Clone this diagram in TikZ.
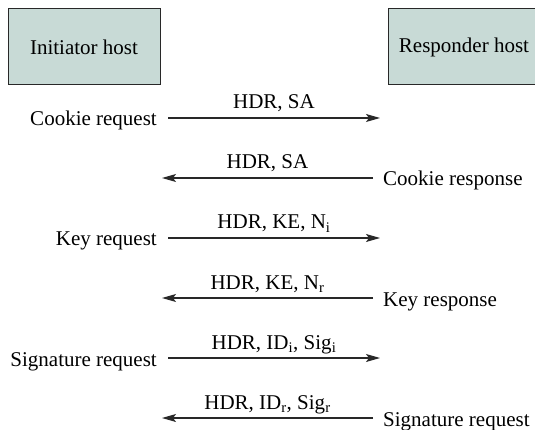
\documentclass[tikz,border=0pt]{standalone}
\usepackage{fontspec}
\setmainfont{Liberation Serif}
\usepackage{xcolor}
\usetikzlibrary{arrows.meta, positioning}
\definecolor{hostfill}{RGB}{200,218,214}
\definecolor{trazo}{RGB}{40,40,40}

\begin{document}
\begin{tikzpicture}[
  x=1pt, y=-1pt,
  every node/.style={font=\fontsize{21}{25}\selectfont},
  host/.style={draw=trazo, line width=1pt, fill=hostfill, minimum width=152pt,
               minimum height=76pt, align=center, inner sep=0pt},
  flecha/.style={-{Stealth[length=14pt, width=8pt, inset=3pt]}, line width=1.2pt, color=trazo},
  msg/.style={anchor=base, yshift=9pt, inner sep=0pt, text=black},
  ladoi/.style={anchor=base east, inner sep=0pt, xshift=-11pt, yshift=-8pt},
  ladod/.style={anchor=base west, inner sep=0pt, xshift=10pt, yshift=-8pt}
]
\useasboundingbox (0,0) rectangle (535,430);

\node[host] (ini) at (84,47) {Initiator host};
\node[host] (resp) at (464,47) {Responder host};

% cookie exchange
\coordinate (ck1a) at (168,118); \coordinate (ck1b) at (380,118);
\coordinate (ck2a) at (373,178); \coordinate (ck2b) at (162,178);
\draw[flecha] (ck1a) -- node[msg]{HDR, SA} (ck1b);
\draw[flecha] (ck2a) -- node[msg]{HDR, SA} (ck2b);
\node[ladoi] (ckreq) at (ck1a) {Cookie request};
\node[ladod] (ckresp) at (ck2a) {Cookie response};

% key exchange
\coordinate (ke1a) at (168,238); \coordinate (ke1b) at (380,238);
\coordinate (ke2a) at (373,298); \coordinate (ke2b) at (162,298);
\draw[flecha] (ke1a) -- node[msg]{HDR, KE, N\textsubscript{i}} (ke1b);
\draw[flecha] (ke2a) -- node[msg]{HDR, KE, N\textsubscript{r}} (ke2b);
\node[ladoi] (kereq) at (ke1a) {Key request};
\node[ladod] (keresp) at (ke2a) {Key response};

% signatures
\coordinate (sg1a) at (168,358); \coordinate (sg1b) at (380,358);
\coordinate (sg2a) at (373,418); \coordinate (sg2b) at (162,418);
\draw[flecha] (sg1a) -- node[msg]{HDR, ID\textsubscript{i}, Sig\textsubscript{i}} (sg1b);
\draw[flecha] (sg2a) -- node[msg]{HDR, ID\textsubscript{r}, Sig\textsubscript{r}} (sg2b);
\node[ladoi] (sgreq) at (sg1a) {Signature request};
\node[ladod] (sgresp) at (sg2a) {Signature request};
\end{tikzpicture}
\end{document}
